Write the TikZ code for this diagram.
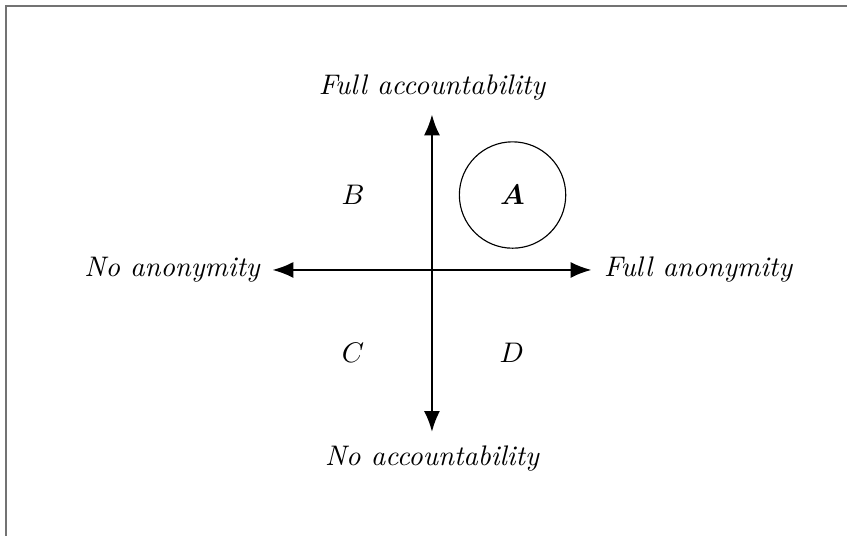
\documentclass[tikz,border=0pt]{standalone}
\usepackage{amsmath,amsfonts}
\usepackage{xcolor}
\usepackage{tikz}
\usetikzlibrary{positioning, arrows.meta}

\begin{document}
\begin{tikzpicture}[node distance=0.06cm,outer sep=0pt,
    axis/.style={line width=0.8pt, {Latex[length=2.6mm,width=2mm]}-{Latex[length=2.6mm,width=2mm]}},
    pole/.style={font=\itshape}]
    \useasboundingbox (-5.36,-3.30) rectangle (5.15,3.35);
    % Rahmen
    \draw[gray!90!black, line width=0.7pt] (-5.28,-3.40) -- (-5.28,3.27) -- (5.25,3.27);

    % Achsen
    \coordinate (top) at (0,1.93);
    \coordinate (bottom) at (0,-2.01);
    \coordinate (left) at (-1.98,0);
    \coordinate (right) at (1.98,0);
    \draw[axis] (bottom) -- (top);
    \draw[axis] (left) -- (right);

    % Pole
    \node[pole, above=of top] (fullacc) {Full accountability};
    \node[pole, below=of bottom] (noacc) {No accountability};
    \node[pole, left=0.04cm of left] (noanon) {No anonymity};
    \node[pole, right=0.04cm of right] (fullanon) {Full anonymity};

    % Quadranten
    \node[draw, circle, minimum size=1.32cm, inner sep=0pt] (A) at (1.0,0.93) {$\boldsymbol{A}$};
    \node (B) at (-0.98,0.93) {$B$};
    \node (C) at (-0.98,-1.03) {$C$};
    \node (D) at (0.99,-1.03) {$D$};
  \end{tikzpicture}
\end{document}
